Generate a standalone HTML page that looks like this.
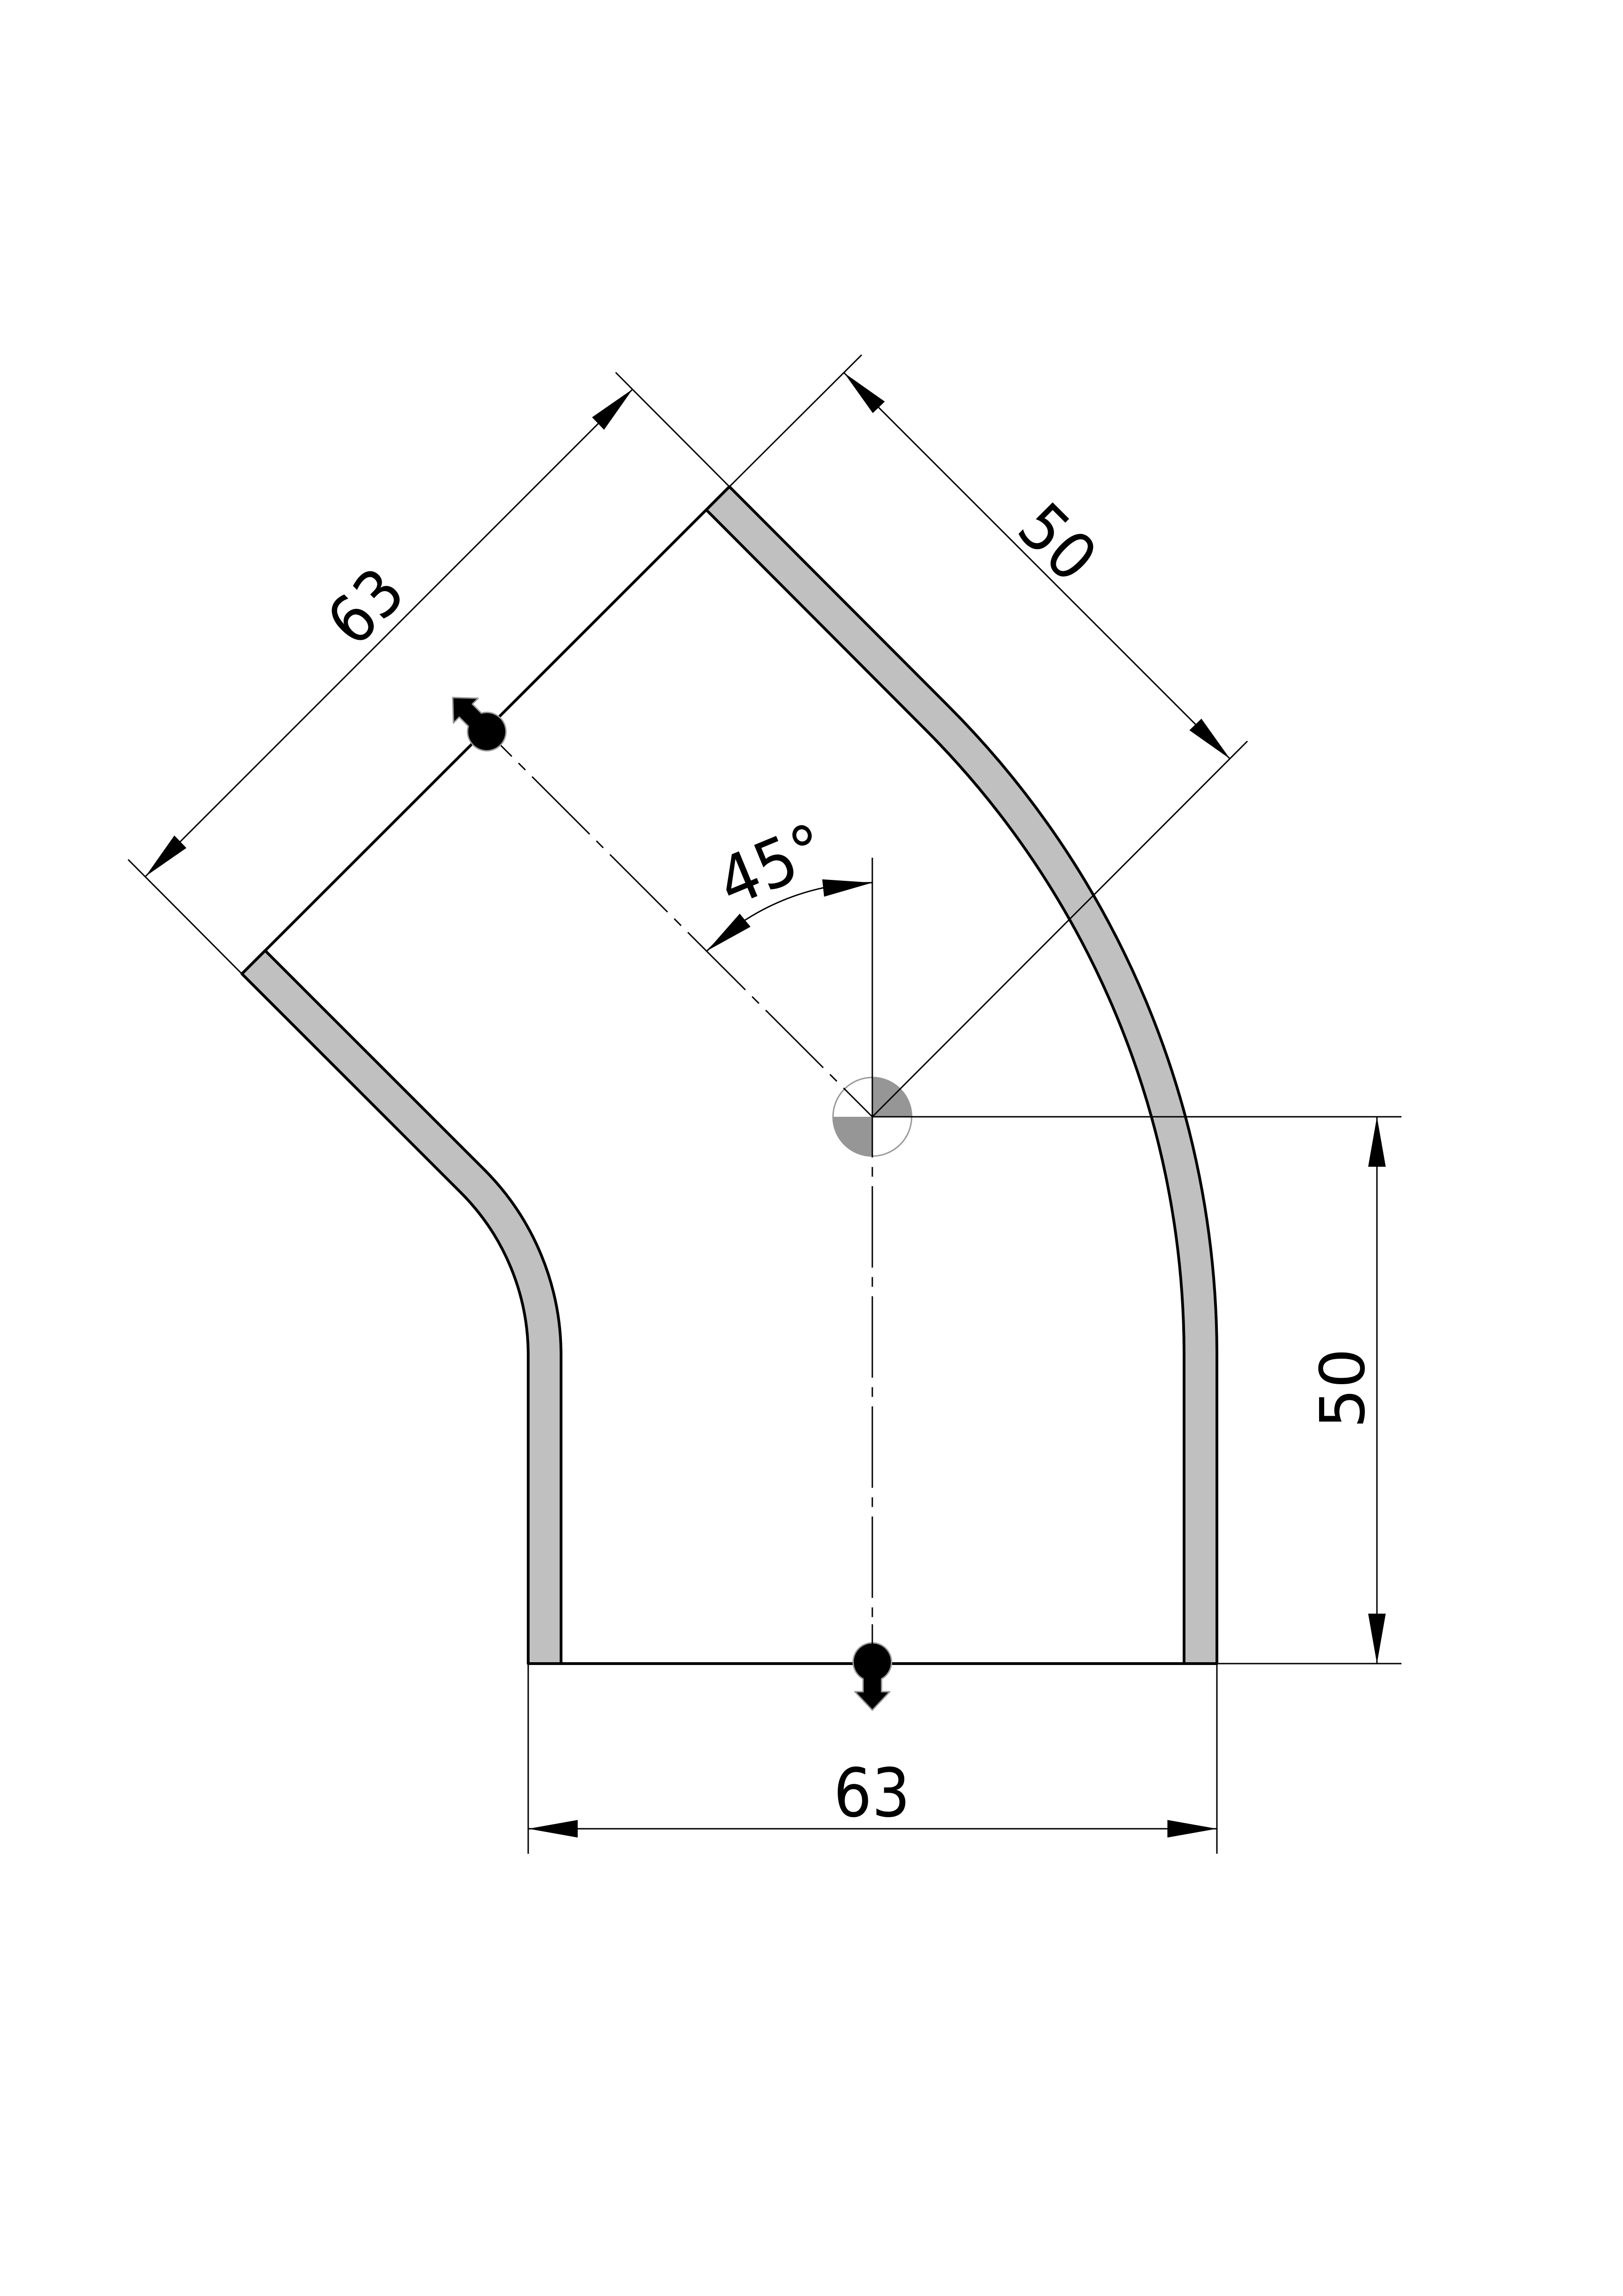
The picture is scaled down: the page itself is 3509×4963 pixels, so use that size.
<!DOCTYPE html>
<html>
<head>
<meta charset="utf-8">
<style>
html,body{margin:0;padding:0;background:#fff;width:3509px;height:4963px;overflow:hidden}
svg{display:block}
text{font-family:"DejaVu Sans","Liberation Sans",sans-serif;font-size:148px;fill:#000;text-anchor:middle}
</style>
</head>
<body>
<svg xmlns="http://www.w3.org/2000/svg" width="3509" height="4963" viewBox="0 0 3509 4963">
<rect width="3509" height="4963" fill="#fff"/>

<!-- tube walls -->
<g fill="#c0c0c0" stroke="#000" stroke-width="6" stroke-linejoin="round">
<path d="M1142 3596 V2929 A496 496 0 0 0 996.7 2578.3 L523 2105 L573.2 2054.8 L1046.9 2528.1 A567 567 0 0 1 1213 2929 V3596 Z"/>
<path d="M2631 3596 V2929 A1985 1985 0 0 0 2049.6 1525.4 L1577 1052 L1527 1102 L1999.4 1575.6 A1914 1914 0 0 1 2560 2929 V3596 Z"/>
</g>
<g stroke="#000" stroke-width="6" fill="none">
<line x1="1142" y1="3596" x2="2631" y2="3596"/>
<line x1="523" y1="2105" x2="1577" y2="1052"/>
</g>

<!-- origin symbol -->
<circle cx="1886" cy="2414" r="85" fill="#fff" stroke="#999" stroke-width="3"/>
<path d="M1886 2414 V2328 A86 86 0 0 1 1972 2414 Z" fill="#969696"/>
<path d="M1886 2414 V2500 A86 86 0 0 1 1800 2414 Z" fill="#969696"/>

<!-- thin lines -->
<g stroke="#000" stroke-width="3" fill="none">
<line x1="1886" y1="2414" x2="1886" y2="1854"/>
<line x1="1886" y1="2414" x2="2697" y2="1602"/>
<line x1="1577" y1="1052" x2="1863" y2="767"/>
<line x1="1886" y1="2414" x2="3030" y2="2414"/>
<line x1="2631" y1="3596" x2="3030" y2="3596"/>
<line x1="1142" y1="3596" x2="1142" y2="4007"/>
<line x1="2631" y1="3596" x2="2631" y2="4007"/>
<line x1="523" y1="2105" x2="277" y2="1858"/>
<line x1="1577" y1="1052" x2="1331" y2="805"/>
<line x1="1142" y1="3953" x2="2631" y2="3953"/>
<line x1="2977" y1="2414" x2="2977" y2="3596"/>
<line x1="315" y1="1894" x2="1368" y2="841"/>
<line x1="1825" y1="806" x2="2659.5" y2="1640.5"/>
<path d="M1886 1908 A506 506 0 0 0 1529 2055"/>
<line x1="1886" y1="2414" x2="1886" y2="3596" stroke-dasharray="176 20.5 21 20.5" stroke-dashoffset="88"/>
<line x1="1886" y1="2414" x2="1050" y2="1578.5" stroke-dasharray="176 20.5 21 20.5" stroke-dashoffset="88"/>
</g>

<!-- arrowheads -->
<g fill="#000">
<polygon points="1142,3953 1249,3934 1249,3972"/>
<polygon points="2631,3953 2524,3934 2524,3972"/>
<polygon points="2977,2414 2958,2522 2996,2522"/>
<polygon points="2977,3596 2958,3488 2996,3488"/>
<polygon points="315,1894 377,1806 403,1833"/>
<polygon points="1368,841 1306,929 1280,902"/>
<polygon points="1825,806 1913,868 1887,893"/>
<polygon points="2659.5,1640.5 2571.5,1578.5 2597.5,1553.5"/>
<polygon points="1886,1908 1777.7,1900.7 1781.7,1938.3"/>
<polygon points="1529,2055 1599.3,1975 1622.7,2003.3"/>
</g>

<!-- section markers -->
<g fill="#000" stroke="#999" stroke-width="3" stroke-linejoin="round">
<path transform="translate(1886 3596)" d="M-20 33 A41.5 41.5 0 1 1 20 33 V60.7 H37.7 L0 100.7 L-37.7 60.7 H-20 Z"/>
<path transform="translate(1050 1579) rotate(135)" d="M-20 33 A41.5 41.5 0 1 1 20 33 V60.7 H37.7 L0 100.7 L-37.7 60.7 H-20 Z"/>
</g>
<line x1="1886" y1="3511" x2="1886" y2="3556" stroke="#000" stroke-width="3"/>

<!-- labels -->
<text transform="translate(1885 3926) scale(.88 .98)">63</text>
<text transform="translate(2949 3001) rotate(-90) scale(.92 .9)">50</text>
<text transform="translate(825 1346) rotate(-45) scale(.86 .95)">63</text>
<text transform="translate(2252 1207) rotate(45) scale(.88 .95)">50</text>
<text transform="translate(1688 1916) rotate(-22.5) scale(.9 .97)">45°</text>
</svg>
</body>
</html>
